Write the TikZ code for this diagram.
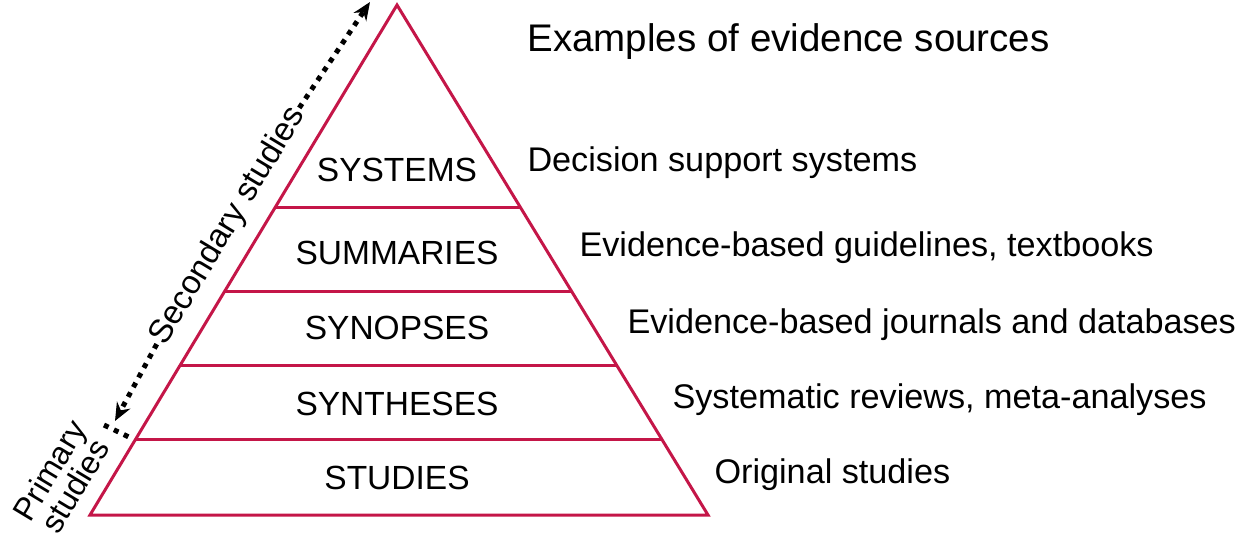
\documentclass[tikz,border=0pt]{standalone}
\usepackage{fontspec}
\setmainfont{Liberation Sans}
\usetikzlibrary{arrows.meta}
\definecolor{pyr}{RGB}{196,22,72}
\begin{document}
\begin{tikzpicture}[x=1pt,y=-1pt,
  edge/.style={draw=pyr,line width=3pt,line join=miter},
  lvl/.style={font=\fontsize{33.5}{36}\selectfont},
  ex/.style={font=\fontsize{34.2}{36}\selectfont,anchor=west},
  dotarrow/.style={line width=5pt,dash pattern=on 5pt off 6pt,-{Stealth[length=18pt,width=15pt]}}]
\useasboundingbox (0,0) rectangle (1244,549);
\coordinate (A) at (397,5);
\coordinate (BL) at (90,515);
\coordinate (BR) at (708,515);
\draw[edge] (A) -- (BR) -- (BL) -- cycle;
\foreach \y in {207,291,365,439}{
  \draw[pyr,line width=3pt] ({397-0.602*(\y-5)},\y) -- ({397+0.608*(\y-5)},\y);
}
\node[lvl] (s1) at (397,170) {SYSTEMS};
\node[lvl] (s2) at (397,253) {SUMMARIES};
\node[lvl] (s3) at (397,328) {SYNOPSES};
\node[lvl] (s4) at (397,404) {SYNTHESES};
\node[lvl] (s5) at (397,478) {STUDIES};
\node[font=\fontsize{38.5}{40}\selectfont,anchor=west] (t) at (524,42) {Examples of evidence sources};
\node[ex] (e1) at (524,163) {Decision support systems};
\node[ex] (e2) at (576,248) {Evidence-based guidelines, textbooks};
\node[ex] (e3) at (624,325) {Evidence-based journals and databases};
\node[ex] (e4) at (669,400) {Systematic reviews, meta-analyses};
\node[ex] (e5) at (711,475) {Original studies};
\coordinate (m) at (228,226);
\coordinate (top) at (370,2);
\coordinate (bot) at (115,421);
\node[rotate=58.9,fill=white,inner sep=2pt,font=\fontsize{33}{36}\selectfont] (sec) at (m) {Secondary studies};
\draw[dotarrow] (sec.east) -- (top);
\draw[dotarrow] (sec.west) -- (bot);
\coordinate (d1) at (104,425);
\coordinate (d2) at (133,439);
\draw[line width=5pt,dash pattern=on 5pt off 6pt] (d1) -- (d2);
\node[rotate=58.9,align=center,font=\fontsize{32}{30}\selectfont] (prim) at (62,478) {Primary\\studies};
\end{tikzpicture}
\end{document}
